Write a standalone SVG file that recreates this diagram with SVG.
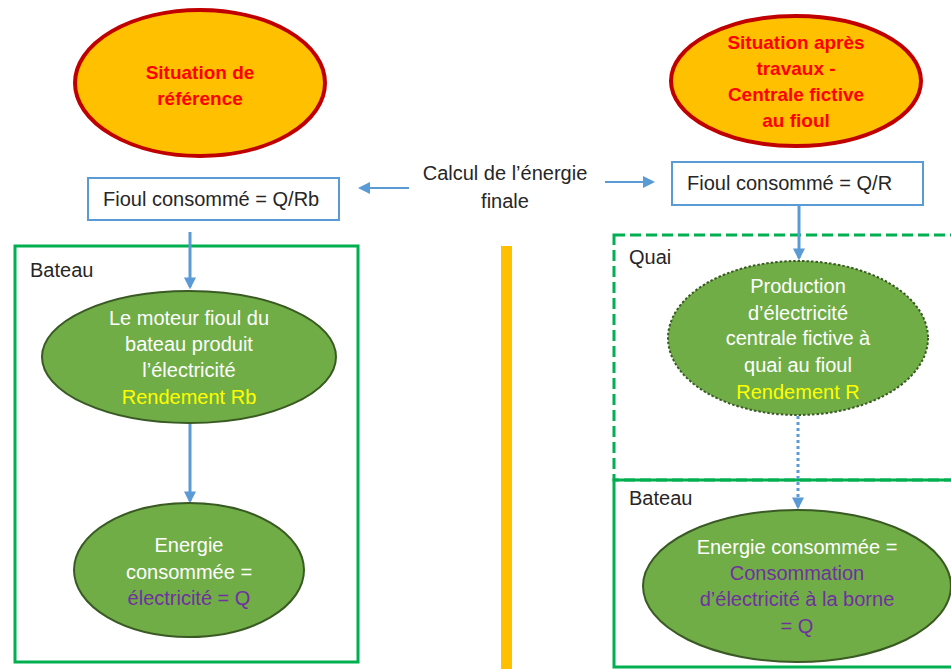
<svg xmlns="http://www.w3.org/2000/svg" width="951" height="669" viewBox="0 0 951 669">
<defs>
<style>
text{font-family:"Liberation Sans",Arial,sans-serif;font-size:20px;}
.title{fill:#FF0000;font-weight:bold;text-anchor:middle;font-size:19px;}
.blk{fill:#262626;}
.w{fill:#FFFFFF;text-anchor:middle;}
.y{fill:#FFFF00;}
.p{fill:#7030A0;}
.c{text-anchor:middle;}
.sit{fill:#FFC000;stroke:#C00000;stroke-width:4;}
.box{fill:#FFFFFF;stroke:#5B9BD5;stroke-width:2;}
.gr{fill:#70AD47;stroke:#3A5A24;stroke-width:2;}
.zone{fill:none;stroke:#00B050;stroke-width:3;}
.conn{stroke:#5B9BD5;stroke-width:3;fill:none;}
.thin{stroke:#5B9BD5;stroke-width:2;fill:none;}
</style>
<marker id="ah" markerWidth="4" markerHeight="4" refX="3.2" refY="2" orient="auto" markerUnits="strokeWidth">
<path d="M0,0 L4,2 L0,4 Z" fill="#5B9BD5"/>
</marker>
<marker id="ah2" markerWidth="6" markerHeight="6" refX="5" refY="3" orient="auto" markerUnits="strokeWidth">
<path d="M0,0 L6,3 L0,6 Z" fill="#5B9BD5"/>
</marker>
</defs>
<rect width="951" height="669" fill="#FFFFFF"/>

<g id="zones">
<rect id="zone-bateau-left" class="zone" x="15" y="246" width="343" height="416"/>
<text x="30" y="277" class="blk">Bateau</text>
<rect id="zone-quai" class="zone" x="614" y="235" width="360" height="245" stroke-dasharray="11 5"/>
<text x="629" y="264" class="blk">Quai</text>
<rect id="zone-bateau-right" class="zone" x="614" y="480" width="360" height="187"/>
<text x="629" y="505" class="blk">Bateau</text>
<rect id="separator" x="501" y="246" width="11" height="423" fill="#FFC000"/>
</g>

<g id="connectors">
<line class="thin" x1="409" y1="188" x2="360" y2="188" marker-end="url(#ah2)"/>
<line class="thin" x1="605" y1="182" x2="653" y2="182" marker-end="url(#ah2)"/>
<line class="conn" x1="190" y1="232" x2="190" y2="287" marker-end="url(#ah)"/>
<line class="conn" x1="190" y1="423" x2="190" y2="501" marker-end="url(#ah)"/>
<line class="conn" x1="799" y1="205" x2="799" y2="258" marker-end="url(#ah)"/>
<line class="conn" x1="798" y1="416" x2="798" y2="507" stroke-dasharray="3 3" marker-end="url(#ah)"/>
</g>

<g id="sit-ref">
<ellipse class="sit" cx="200" cy="83" rx="125" ry="73"/>
<text class="title" x="200" y="79">Situation de</text>
<text class="title" x="200" y="105">référence</text>
</g>

<g id="sit-apres">
<ellipse class="sit" cx="796" cy="81" rx="125" ry="65"/>
<text class="title" x="796" y="49">Situation après</text>
<text class="title" x="796" y="75">travaux -</text>
<text class="title" x="796" y="101">Centrale fictive</text>
<text class="title" x="796" y="127">au fioul</text>
</g>

<g id="calcul">
<text class="blk c" x="505" y="180" font-size="21">Calcul de l’énergie</text>
<text class="blk c" x="505" y="208" font-size="21">finale</text>
</g>

<g id="fioul-left">
<rect class="box" x="88" y="178" width="251" height="42"/>
<text class="blk" x="103" y="206">Fioul consommé = Q/Rb</text>
</g>

<g id="fioul-right">
<rect class="box" x="672" y="162" width="251" height="43"/>
<text class="blk" x="687" y="190">Fioul consommé = Q/R</text>
</g>

<g id="moteur">
<ellipse class="gr" cx="189" cy="357" rx="147" ry="66"/>
<text class="w" x="189" y="325">Le moteur fioul du</text>
<text class="w" x="189" y="351">bateau produit</text>
<text class="w" x="189" y="377">l’électricité</text>
<text class="w y" x="189" y="404">Rendement Rb</text>
</g>

<g id="energie-left">
<ellipse class="gr" cx="189" cy="570" rx="115" ry="67"/>
<text class="w" x="189" y="552">Energie</text>
<text class="w" x="189" y="579">consommée =</text>
<text class="w p" x="189" y="605">électricité = Q</text>
</g>

<g id="production">
<ellipse class="gr" cx="798" cy="338" rx="130" ry="77" stroke-width="3.5" stroke-dasharray="2.5 2" stroke="#2E4A1C"/>
<text class="w" x="798" y="293">Production</text>
<text class="w" x="798" y="320">d’électricité</text>
<text class="w" x="798" y="345">centrale fictive à</text>
<text class="w" x="798" y="372">quai au fioul</text>
<text class="w y" x="798" y="399">Rendement R</text>
</g>

<g id="energie-right">
<ellipse class="gr" cx="797" cy="586" rx="154" ry="76"/>
<text class="w" x="797" y="554">Energie consommée =</text>
<text class="w p" x="797" y="580">Consommation</text>
<text class="w p" x="797" y="606">d’électricité à la borne</text>
<text class="w p" x="797" y="633">= Q</text>
</g>
</svg>
